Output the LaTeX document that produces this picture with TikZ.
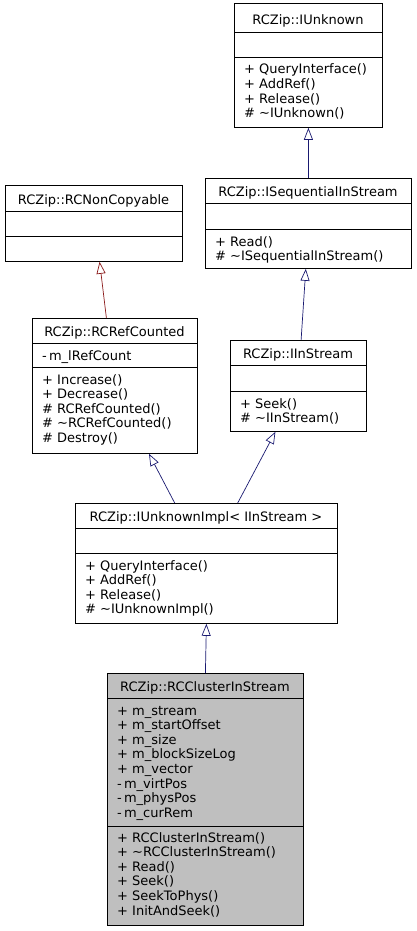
\documentclass[tikz,border=0pt]{standalone}
\usepackage{fontspec}
\setmainfont{DejaVu Sans}
\usetikzlibrary{arrows.meta}
\definecolor{edgeblue}{HTML}{191970}
\definecolor{edgered}{HTML}{8B1A1A}
\definecolor{classgray}{HTML}{BFBFBF}

\begin{document}
\begin{tikzpicture}[x=1pt,y=-1pt,
  every node/.style={font=\fontsize{13}{14.6}\selectfont, inner sep=0pt},
  cls/.style={draw, anchor=north west, line width=0.8pt},
  inherit/.style={draw=edgeblue, line width=0.7pt, -{Triangle[open,length=12pt,width=9pt]}}]
\useasboundingbox (0,0) rectangle (416,931);

% class boxes
\node[cls, minimum width=148, minimum height=124] (iu) at (234,3) {};
\node[cls, minimum width=206, minimum height=90] (iseq) at (205,178) {};
\node[cls, minimum width=177, minimum height=76] (nc) at (5,185) {};
\node[cls, minimum width=165, minimum height=135] (rcref) at (32,318) {};
\node[cls, minimum width=136, minimum height=91] (iin) at (230,340) {};
\node[cls, minimum width=262, minimum height=120] (impl) at (75,503) {};
\node[cls, fill=classgray, minimum width=196, minimum height=252] (cl) at (107,673) {};

% section lines
\foreach \b/\ya/\yb in {iu/32/57, iseq/203/229, nc/211/236, rcref/343/367, iin/365/391, impl/528/553, cl/698/826}{
	\draw[line width=0.8pt] (\b.west |- 0,\ya) -- (\b.east |- 0,\ya);
	\draw[line width=0.8pt] (\b.west |- 0,\yb) -- (\b.east |- 0,\yb);
	}

% titles
\node[anchor=base] (iu-t) at (308,25) {RCZip::IUnknown};
\node[anchor=base] (iseq-t) at (308,196) {RCZip::ISequentialInStream};
\node[anchor=base] (nc-t) at (93.5,204) {RCZip::RCNonCopyable};
\node[anchor=base] (rcref-t) at (114.5,336) {RCZip::RCRefCounted};
\node[anchor=base] (iin-t) at (298,358) {RCZip::IInStream};
\node[anchor=base] (impl-t) at (206,521) {RCZip::IUnknownImpl< IInStream >};
\node[anchor=base] (cl-t) at (205,691) {RCZip::RCClusterInStream};

% members
\foreach \t [count=\i] in {+ QueryInterface(), + AddRef(), + Release(), \# \textasciitilde IUnknown()}
	\node[anchor=base west] (iu-m\i) at (244,59.4+14.6*\i) {\t};
\foreach \t [count=\i] in {+ Read(), \# \textasciitilde ISequentialInStream()}
	\node[anchor=base west] (iseq-m\i) at (215,231.4+14.6*\i) {\t};
\node[anchor=base west] (rcref-a1) at (42,360) {-\,m\_lRefCount};
\foreach \t [count=\i] in {+ Increase(), + Decrease(), \# RCRefCounted(), \# \textasciitilde RCRefCounted(), \# Destroy()}
	\node[anchor=base west] (rcref-m\i) at (42,369.4+14.6*\i) {\t};
\foreach \t [count=\i] in {+ Seek(), \# \textasciitilde IInStream()}
	\node[anchor=base west] (iin-m\i) at (240,393.4+14.6*\i) {\t};
\foreach \t [count=\i] in {+ QueryInterface(), + AddRef(), + Release(), \# \textasciitilde IUnknownImpl()}
	\node[anchor=base west] (impl-m\i) at (85,555.4+14.6*\i) {\t};
\foreach \t [count=\i] in {+ m\_stream, + m\_startOffset, + m\_size, + m\_blockSizeLog, + m\_vector, -\,m\_virtPos, -\,m\_physPos, -\,m\_curRem}
	\node[anchor=base west] (cl-a\i) at (117,700.4+14.6*\i) {\t};
\foreach \t [count=\i] in {+ RCClusterInStream(), + \textasciitilde RCClusterInStream(), + Read(), + Seek(), + SeekToPhys(), + InitAndSeek()}
	\node[anchor=base west] (cl-m\i) at (117,827.4+14.6*\i) {\t};

% inheritance
\draw[inherit] (iseq.north) -- (iu.south);
\draw[inherit, draw=edgered] ([xshift=-8.5]rcref.north) -- ([xshift=5.7]nc.south);
\draw[inherit] ([xshift=2.7]iin.north) -- ([xshift=-2.6]iseq.south);
\draw[inherit] ([xshift=-31.7]impl.north) -- ([xshift=34.1]rcref.south);
\draw[inherit] ([xshift=31.3]impl.north) -- ([xshift=-23]iin.south);
\draw[inherit] (cl.north) -- (impl.south);
\end{tikzpicture}
\end{document}
